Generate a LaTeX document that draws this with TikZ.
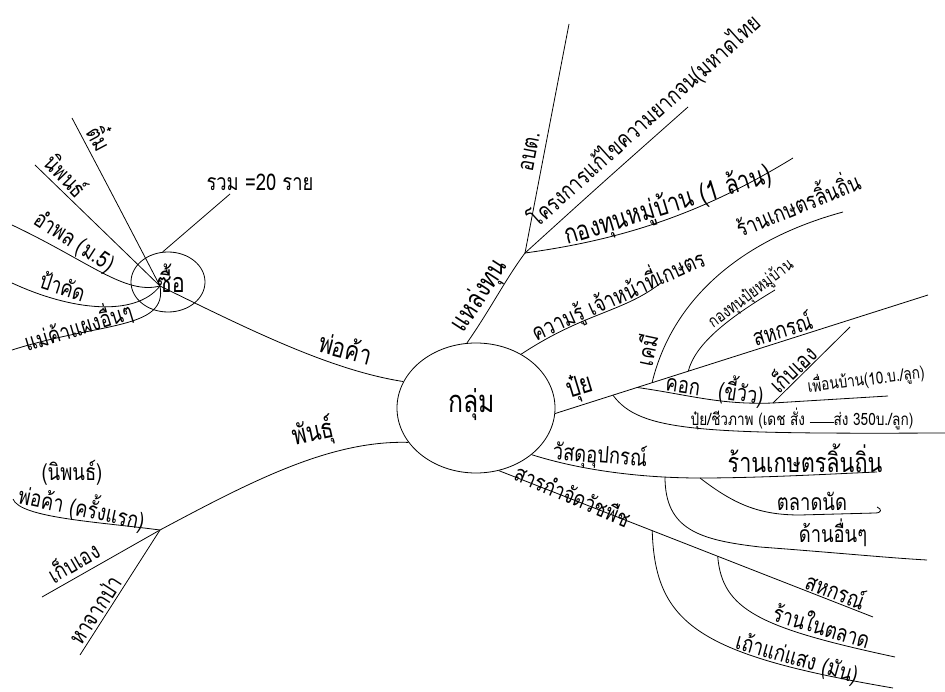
\documentclass[tikz,border=0pt]{standalone}
\usepackage{fontspec}
\newfontfamily\thaifont[Script=Thai,FakeStretch=0.8]{Loma}
\usetikzlibrary{shapes.geometric}
\begin{document}
\begin{tikzpicture}[x=1pt,y=-1pt,line width=0.8pt,
  lb/.style={font=\thaifont\fontsize{23}{23}\selectfont, inner sep=0pt},
  bg/.style={font=\thaifont\fontsize{27}{27}\selectfont, inner sep=0pt},
  sm/.style={font=\thaifont\fontsize{17}{17}\selectfont, inner sep=0pt},
  ctr/.style={font=\thaifont\fontsize{31}{31}\selectfont, inner sep=0pt}]
\useasboundingbox (0,0) rectangle (945,692);

% ---------- top-left cluster ----------
\node[draw,ellipse,minimum width=74pt,minimum height=60pt,inner sep=0pt] (Z) at (168,282) {};
\node[bg] (Zt) at (171,278) {ซื้อ};
\coordinate (zc) at (160,286);
\coordinate (t1) at (72,118);
\coordinate (n1) at (35,165);
\coordinate (a1) at (12,225);
\coordinate (p1) at (12,283);
\coordinate (m1) at (12,350);
\node[lb] (rv) at (260,182) {รวม =20 ราย};
\coordinate (rvb) at (230,194);
\draw (t1) .. controls (110,190) .. (zc);
\draw (n1) -- (zc);
\draw (a1) .. controls (90,262) and (125,295) .. (zc);
\draw (p1) .. controls (70,310) and (135,318) .. (zc);
\draw (m1) .. controls (100,322) and (168,330) .. (zc);
\draw (Z.100) -- (rvb);
\node[lb,rotate=-62] (L1) at (102,137) {ติ๋ม};
\node[lb,rotate=-46] (L2) at (67,175) {นิพนธ์};
\node[lb,rotate=-33] (L3) at (74,242) {อำพล (ม.5)};
\node[lb,rotate=-18] (L4) at (63,286) {ป้าคัด};
\node[lb,rotate=17] (L5) at (78,326) {แม่ค้าแผงอื่นๆ};

% ---------- centre ----------
\node[draw,ellipse,minimum width=158pt,minimum height=130pt,inner sep=0pt] (G) at (476,408) {};
\node[ctr] (Gt) at (472,405) {กลุ่ม};

% พ่อค้า
\draw (zc) .. controls (250,330) and (330,370) .. (G.160);
\node[bg,rotate=-15] (pk) at (346,348) {พ่อค้า};

% ---------- พันธุ์ ----------
\coordinate (hL) at (160,530);
\draw (hL) .. controls (250,482) and (330,440) .. (G.207);
\node[bg,rotate=12] (ph) at (313,433) {พันธุ์};
\coordinate (pk1) at (13,499);
\draw (pk1) .. controls (20,518) and (100,522) .. (hL);
\node[lb] (np) at (72,473) {(นิพนธ์)};
\node[lb,rotate=-12] (pkr) at (82,507) {พ่อค้า (ครั้งแรก)};
\coordinate (kL) at (42,597);
\draw (hL) -- (kL);
\node[lb,rotate=30] (kel) at (73,561) {เก็บเอง};
\coordinate (hj) at (80,655);
\draw (hL) -- (hj);
\node[lb,rotate=57] (hjp) at (95,610) {หาจากป่า};

% ---------- แหล่งทุน ----------
\coordinate (hT) at (525,253);
\draw (G.98) .. controls (490,310) and (505,280) .. (hT);
\node[bg,rotate=57] (ht) at (480,296) {แหล่งทุน};
\coordinate (ab) at (569,24);
\draw (hT) -- (ab);
\node[lb,rotate=79] (abt) at (530,152) {อบต.};
\coordinate (kr) at (688,107);
\draw (hT) .. controls (600,185) .. (kr);
\node[lb,rotate=42] (krt) at (645,121) {โครงการแก้ไขความยากจน(มหาดไทย};
\coordinate (gt) at (793,158);
\draw (hT) .. controls (620,240) and (700,215) .. (gt);
\node[bg,rotate=17] (gtt) at (668,206) {กองทุนหมู่บ้าน (1 ล้าน)};

% ---------- ความรู้ ----------
\coordinate (kw) at (662,282);
\draw (G.50) .. controls (585,312) and (625,312) .. (kw);
\node[lb,rotate=24] (kwt) at (618,295) {ความรู้ เจ้าหน้าที่เกษตร};

% ---------- ปุ๋ย ----------
\coordinate (pe) at (928,295);
\draw (G.-4) -- (pe);
\path (G.-4) -- (pe) coordinate[pos=0.155] (c4) coordinate[pos=0.22] (c3)
  coordinate[pos=0.26] (c1) coordinate[pos=0.357] (c2);
\node[bg,rotate=17] (pt) at (580,388) {ปุ๋ย};
\coordinate (rk) at (843,212);
\draw (c1) .. controls (672,300) and (740,240) .. (rk);
\node[lb,rotate=78] (km) at (646,350) {เคมี};
\node[lb,rotate=22] (rkt) at (797,202) {ร้านเกษตรลิ้นถิ่น};
\coordinate (gp) at (775,290);
\draw (c2) .. controls (695,345) and (725,320) .. (gp);
\node[sm,rotate=37] (gpt) at (751,294) {กองทุนปุ๋ยหมู่บ้าน};
\node[lb,rotate=17] (sh1) at (782,328) {สหกรณ์};
\coordinate (kk) at (773,403);
\draw (c3) .. controls (690,395) and (720,405) .. (kk);
\node[lb,rotate=-8] (kkt) at (715,388) {คอก\hspace{0.8em}(ขี้วัว)};
\coordinate (ke) at (850,327);
\draw (kk) -- (ke);
\node[lb,rotate=44] (ket) at (792,368) {เก็บเอง};
\coordinate (fb) at (888,396);
\draw (kk) -- (fb);
\node[sm,rotate=7] (fbt) at (866,379) {เพื่อนบ้าน(10.บ./ลูก)};
\coordinate (pb) at (945,433);
\draw (c4) .. controls (640,432) and (700,434) .. (pb);
\node[sm] (pbt) at (802,419) {ปุ๋ย/ชีวภาพ (เดช สั่ง \rule[3pt]{24pt}{0.6pt}ส่ง 350บ./ลูก)};

% ---------- วัสดุอุปกรณ์ ----------
\coordinate (vh) at (700,478);
\coordinate (rl) at (877,472);
\draw (G.-40) .. controls (580,470) and (640,478) .. (vh) .. controls (760,478) and (830,474) .. (rl);
\node[lb,rotate=-4] (vt) at (600,456) {วัสดุอุปกรณ์};
\node[bg] (rlt) at (805,458) {ร้านเกษตรลิ้นถิ่น};
\coordinate (tn) at (875,513);
\draw (vh) .. controls (735,505) and (760,515) .. (800,515) -- (tn) .. controls (882,513) and (882,509) .. (877,507);
\node[lb] (tnt) at (812,501) {ตลาดนัด};
\coordinate (d0) at (665,477);
\coordinate (de) at (927,560);
\draw (d0) .. controls (665,530) and (700,540) .. (760,547) .. controls (840,553) and (890,558) .. (de);
\node[lb] (det) at (833,533) {ด้านอื่นๆ};

% ---------- สารกำจัดวัชพืช ----------
\coordinate (se) at (873,617);
\draw (G.-70) -- (se);
\path (G.-70) -- (se) coordinate[pos=0.41] (t0) coordinate[pos=0.585] (r0);
\node[lb,rotate=-23] (st) at (573,495) {สารกำจัดวัชพืช};
\node[lb,rotate=-21] (sh2) at (836,590) {สหกรณ์};
\coordinate (rn) at (895,657);
\draw (r0) .. controls (722,610) and (760,628) .. (rn);
\node[lb,rotate=-17] (rnt) at (822,625) {ร้านในตลาด};
\coordinate (tk) at (893,688);
\draw (t0) .. controls (655,625) and (700,655) .. (tk);
\node[lb,rotate=-16] (tkt) at (797,659) {เถ้าแก่แสง (มัน)};
\end{tikzpicture}
\end{document}
